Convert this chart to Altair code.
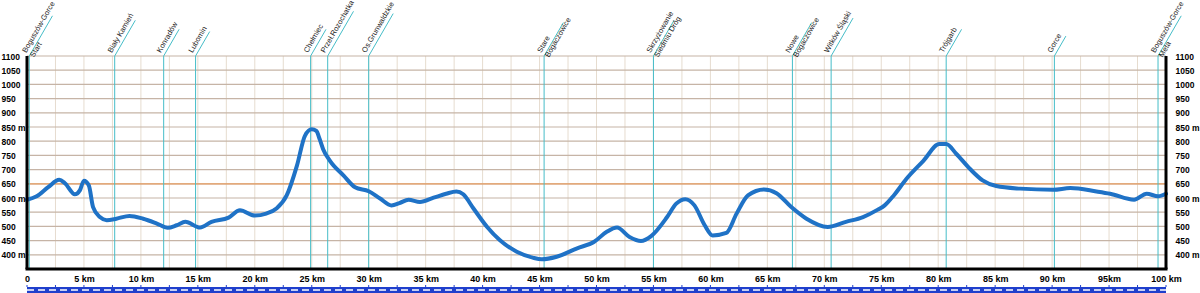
import altair as alt
import pandas as pd

# ---------------- data ----------------
profile_km = [0, 0.85, 1.86, 2.83, 3.33, 4.2, 4.64, 5.0, 5.43, 5.8, 6.4, 7.0, 7.85, 9.0, 10.2,
              11.4, 12.35, 13.15, 13.9, 15.2, 16.2, 17.7, 18.7, 20.0, 21.0, 21.9, 22.8, 23.7,
              24.4, 25.0, 25.4, 25.7, 26.0, 26.6, 27.8, 28.8, 30.0, 31.0, 32.0, 32.7, 33.5,
              34.5, 35.7, 36.8, 37.7, 38.3, 39.2, 40.4, 41.5, 43.0, 44.4, 45.2, 46.5, 48.3,
              49.8, 50.9, 51.8, 52.9, 53.9, 54.8, 56.2, 57.0, 57.8, 58.6, 59.5, 60.2, 61.4,
              62.3, 63.3, 64.7, 65.8, 67.1, 68.4, 70.3, 71.9, 73.4, 74.7, 75.3, 76.1, 77.2,
              78.7, 80.1, 80.7, 81.6, 82.8, 83.9, 85.1, 87.2, 90.1, 91.6, 93.9, 95.1, 97.2,
              98.3, 99.3, 100]
profile_elev = [594, 606, 638, 664, 652, 613, 627, 661, 644, 568, 533, 522, 527, 537, 527,
                510, 495, 504, 516, 496, 516, 531, 557, 538, 545, 563, 609, 714,
                819, 842, 836, 807, 772, 731, 679, 638, 624, 598, 574, 582, 594,
                586, 601, 615, 623, 613, 563, 498, 452, 411, 390, 384, 393, 423,
                446, 481, 496, 463, 449, 466, 533, 580, 596, 574, 504, 468, 477,
                545, 609, 630, 617, 568, 528, 498, 516, 533, 559, 574, 609, 667,
                731, 790, 790, 755, 702, 662, 642, 633, 629, 635, 623, 615, 594,
                615, 606, 615]

station_km = [0.2, 7.7, 12.0, 14.8, 24.9, 26.4, 30.0, 45.4, 55.0, 67.2, 70.6, 80.7, 90.2, 99.3]
station_names = ["Boguszów-Gorce\nStart", "Biały Kamień", "Konradów", "Lubomin", "Chełmiec",
                 "Przeł.Rozochatka", "Os.Grunwaldzkie", "Stare\nBogaczowice",
                 "Skrzyżowanie\nSiedmiu Dróg", "Nowe\nBogaczowice", "Witków Śląski",
                 "Trójgarb", "Gorce", "Boguszów-Gorce\nMeta"]

x_tick_values = list(range(0, 101, 5))
y_tick_values = list(range(400, 1101, 50))
grid_km = [i * 2.5 for i in range(41)]
highlight_elev = [650]

# ---------------- layout ----------------
W, H = 1139, 213
X_MIN, X_MAX = 0, 100
Y_MIN, Y_MAX = 350, 1100
PX_PER_KM = W / (X_MAX - X_MIN)
PX_PER_M = H / (Y_MAX - Y_MIN)

FONT = "Liberation Sans"
CYAN = "#45bdc8"

xs = alt.Scale(domain=[X_MIN, X_MAX], nice=False, zero=False)
ys = alt.Scale(domain=[Y_MIN, Y_MAX], nice=False, zero=False)

profile = pd.DataFrame({"km": profile_km, "elev": profile_elev})

st = pd.DataFrame({"km": station_km, "name": station_names})
st["top"] = Y_MAX
lens = [2.6 * max(len(s) for s in n.split("\n")) + 10 for n in station_names]
st["km2"] = [k + L * 0.5 / PX_PER_KM for k, L in zip(station_km, lens)]
st["top2"] = [Y_MAX + L * 0.866 / PX_PER_M for L in lens]

gx = pd.DataFrame({"km": grid_km})
gy = pd.DataFrame({"elev": y_tick_values})
hl = pd.DataFrame({"elev": highlight_elev})
one = pd.DataFrame({"a": [0]})
ruler = pd.DataFrame({"km": [X_MIN], "km2": [X_MAX]})
ruler_ticks = pd.DataFrame({"km": grid_km})

noX = alt.X("km:Q", scale=xs, axis=None)
Y_LABEL_EXPR = "(datum.value==850||datum.value==600||datum.value==400) ? datum.value + ' m' : datum.value"

vgrid = alt.Chart(gx).mark_rule(color="#e6dccf", strokeWidth=1).encode(x=noX)

hgrid = alt.Chart(gy).mark_rule(color="#c6b4a6", strokeWidth=1.2).encode(
    y=alt.Y("elev:Q", scale=ys,
            axis=alt.Axis(orient="right", values=y_tick_values, title=None, ticks=False, tickSize=0,
                          domain=False, grid=False, labelAlign="left", labelPadding=9,
                          labelFont=FONT, labelFontSize=8.5, labelFontWeight="bold", labelColor="#000",
                          labelExpr=Y_LABEL_EXPR))
)

hline = alt.Chart(hl).mark_rule(color="#e9a066", strokeWidth=1.3).encode(
    y=alt.Y("elev:Q", scale=ys, axis=None)
)

vst = alt.Chart(st).mark_rule(color=CYAN, strokeWidth=1).encode(x=noX)

slant = alt.Chart(st).mark_rule(color=CYAN, strokeWidth=1).encode(
    x=noX, x2="km2:Q",
    y=alt.Y("top:Q", scale=ys, axis=None), y2="top2:Q"
)

labels = alt.Chart(st).mark_text(
    angle=300, align="left", baseline="bottom", dx=1, dy=-2, font=FONT, fontSize=7.5,
    lineBreak="\n", lineHeight=9, color="#1a1a1a"
).encode(x=noX, y=alt.Y("top:Q", scale=ys, axis=None), text="name:N")

line = alt.Chart(profile).mark_line(
    color="#1f72c6", strokeWidth=4, interpolate="monotone", strokeCap="round", strokeJoin="round"
).encode(
    x=alt.X("km:Q", scale=xs,
            axis=alt.Axis(orient="bottom", values=x_tick_values, title=None, ticks=False, tickSize=0,
                          domain=False, grid=False, labelPadding=5, labelFont=FONT, labelFontSize=9,
                          labelFontWeight="bold", labelColor="#000", labelFlush=False,
                          labelExpr="datum.value == 0 ? '0' : (datum.value == 95 ? '95km' : datum.value + ' km')")),
    y=alt.Y("elev:Q", scale=ys,
            axis=alt.Axis(orient="left", values=y_tick_values, title=None, ticks=False, tickSize=0,
                          domain=False, grid=False, labelAlign="left", labelPadding=26,
                          labelFont=FONT, labelFontSize=8.5, labelFontWeight="bold", labelColor="#000",
                          labelExpr=Y_LABEL_EXPR))
)

frame_left = alt.Chart(one).mark_rule(color="#000", strokeWidth=3).encode(
    x=alt.value(0), y=alt.value(0), y2=alt.value(H))
frame_right = alt.Chart(one).mark_rule(color="#000", strokeWidth=3).encode(
    x=alt.value(W), y=alt.value(0), y2=alt.value(H))
frame_bottom = alt.Chart(one).mark_rule(color="#000", strokeWidth=3).encode(
    x=alt.value(-1.5), x2=alt.value(W + 1.5), y=alt.value(H))

ruler_bar = alt.Chart(ruler).mark_rect(color="#1f3fcc").encode(
    x=noX, x2="km2:Q", y=alt.value(H + 18), y2=alt.value(H + 24))
ruler_dash = alt.Chart(ruler).mark_rule(color="#ffffff", strokeWidth=1.5, strokeDash=[7, 4]).encode(
    x=noX, x2="km2:Q", y=alt.value(H + 21))
ruler_tick = alt.Chart(ruler_ticks).mark_rule(color="#1f3fcc", strokeWidth=1).encode(
    x=noX, y=alt.value(H + 16), y2=alt.value(H + 18))

chart = alt.layer(
    vgrid, hgrid, hline, vst, slant, labels, line,
    frame_left, frame_right, frame_bottom, ruler_bar, ruler_dash, ruler_tick
).resolve_axis(x="independent", y="independent").properties(
    width=W, height=H, autosize="none",
    padding={"left": 27, "top": 56, "right": 34, "bottom": 24},
    background="#ffffff"
).configure_view(stroke=None)

chart.save("out.html", embed_options={"renderer": "svg", "actions": False})
